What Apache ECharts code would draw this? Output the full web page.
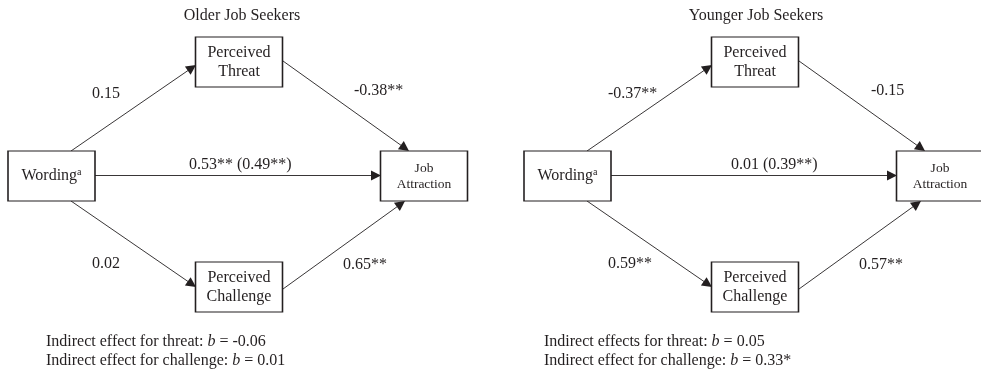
<!DOCTYPE html>
<html>
<head>
<meta charset="utf-8">
<script src="https://cdn.jsdelivr.net/npm/echarts@6/dist/echarts.min.js"></script>
<style>
html,body{margin:0;padding:0;background:#fff;}
#chart{width:981px;height:375px;}
</style>
</head>
<body>
<div id="chart"></div>
<script>
// ---------- DATA ----------
const panelTitles = ['Older Job Seekers', 'Younger Job Seekers'];
const nodeNames = ['wording', 'threat', 'challenge', 'attraction'];
const nodeLabels = ['{w|Wording}{s|a}', 'Perceived\nThreat', 'Perceived\nChallenge', '{j|Job}\n{j|Attraction}'];
const pathNames = ['wording-threat', 'threat-attraction', 'wording-attraction', 'wording-challenge', 'challenge-attraction'];
const olderCoefs = ['0.15', '-0.38**', '0.53** (0.49**)', '0.02', '0.65**'];
const youngerCoefs = ['-0.37**', '-0.15', '0.01 (0.39**)', '0.59**', '0.57**'];
const olderIndirectLabels = ['Indirect effect for threat:', 'Indirect effect for challenge:'];
const olderIndirectValues = ['-0.06', '0.01'];
const youngerIndirectLabels = ['Indirect effects for threat:', 'Indirect effect for challenge:'];
const youngerIndirectValues = ['0.05', '0.33*'];

// ---------- LAYOUT (diagram units, one panel) ----------
const panelOffset = [0, 516];
const titlePos = [[242, 16], [240, 16]];
const nodeCenter = [[51.5, 176], [239, 62], [239, 287], [424, 176]];
const boxSize = [87, 50];
const edgeFrom = [[71, 151], [283, 61], [95, 175.5], [71, 201], [283, 289]];
const edgeTo = [[196, 65], [409, 151], [381, 175.5], [196, 287], [405, 201]];
const coefPos = [
  [[92, 94], [354, 91], [189, 164.5], [92, 264], [343, 265]],
  [[92, 94], [355, 91], [215, 164.5], [92, 264], [343, 265]]
];
const footerPos = [[46, 342], [28, 342]];
const footerGap = 19;
const arrowSize = 10;
const ink = '#231f20';
const serif = '"Liberation Serif", "Times New Roman", serif';

const panels = [
  { title: panelTitles[0], coefs: olderCoefs, ind: olderIndirectLabels, val: olderIndirectValues },
  { title: panelTitles[1], coefs: youngerCoefs, ind: youngerIndirectLabels, val: youngerIndirectValues }
];

const boxData = [];
const lineData = [];
const textData = [];

panels.forEach((p, pi) => {
  const ox = panelOffset[pi];
  nodeNames.forEach((n, ni) => {
    boxData.push({ name: n, value: [nodeCenter[ni][0] + ox, nodeCenter[ni][1]], label: { formatter: nodeLabels[ni] } });
  });
  pathNames.forEach((e, ei) => {
    const a = [edgeFrom[ei][0] + ox, edgeFrom[ei][1]];
    const b = [edgeTo[ei][0] + ox, edgeTo[ei][1]];
    const dx = b[0] - a[0], dy = b[1] - a[1];
    const len = Math.sqrt(dx * dx + dy * dy);
    const s = arrowSize / 2;
    const bb = [b[0] - dx / len * s, b[1] - dy / len * s];
    lineData.push({ name: e, coords: [a, bb] });
    textData.push({ value: [coefPos[pi][ei][0] + ox, coefPos[pi][ei][1]], label: { formatter: p.coefs[ei], align: 'left' } });
  });
  textData.push({ value: [titlePos[pi][0] + ox, titlePos[pi][1]], label: { formatter: p.title, align: 'center' } });
  p.ind.forEach((t, ti) => {
    textData.push({
      value: [footerPos[pi][0] + ox, footerPos[pi][1] + ti * footerGap],
      label: { formatter: '{n|' + t + ' }{i|b}{n| = ' + p.val[ti] + '}', align: 'left' }
    });
  });
});

const chart = echarts.init(document.getElementById('chart'), null, { renderer: 'canvas' });
chart.setOption({
  animation: false,
  backgroundColor: '#ffffff',
  grid: { left: 0, right: 0, top: 0, bottom: 0 },
  xAxis: { type: 'value', min: 0, max: 981, show: false },
  yAxis: { type: 'value', min: 0, max: 375, inverse: true, show: false },
  series: [
    {
      type: 'lines',
      coordinateSystem: 'cartesian2d',
      z: 1,
      symbol: ['none', 'triangle'],
      symbolSize: arrowSize,
      lineStyle: { color: ink, width: 0.9, opacity: 1, curveness: 0 },
      itemStyle: { color: ink },
      data: lineData
    },
    {
      type: 'scatter',
      z: 2,
      symbol: 'rect',
      symbolSize: boxSize,
      itemStyle: { color: '#ffffff', borderColor: ink, borderWidth: 1.2, opacity: 1 },
      label: {
        show: true,
        position: 'inside',
        color: ink,
        textBorderWidth: 0,
        fontFamily: serif,
        fontSize: 16,
        lineHeight: 19,
        rich: {
          w: { fontFamily: serif, fontSize: 16, color: ink, lineHeight: 18 },
          s: { fontFamily: serif, fontSize: 10, color: ink, lineHeight: 10, verticalAlign: 'top' },
          j: { fontFamily: serif, fontSize: 13.5, color: ink, lineHeight: 16 }
        }
      },
      emphasis: { disabled: true },
      data: boxData
    },
    {
      type: 'scatter',
      z: 3,
      symbol: 'circle',
      symbolSize: 1,
      itemStyle: { color: ink, opacity: 0 },
      label: {
        show: true,
        position: 'inside',
        verticalAlign: 'middle',
        color: ink,
        opacity: 1,
        textBorderWidth: 0,
        textBorderColor: 'transparent',
        fontFamily: serif,
        fontSize: 16,
        rich: {
          n: { fontFamily: serif, fontSize: 16, color: ink, textBorderWidth: 0 },
          i: { fontFamily: serif, fontSize: 16, color: ink, fontStyle: 'italic', textBorderWidth: 0 }
        }
      },
      emphasis: { disabled: true },
      labelLayout: { hideOverlap: false },
      data: textData
    }
  ]
});
</script>
</body>
</html>
